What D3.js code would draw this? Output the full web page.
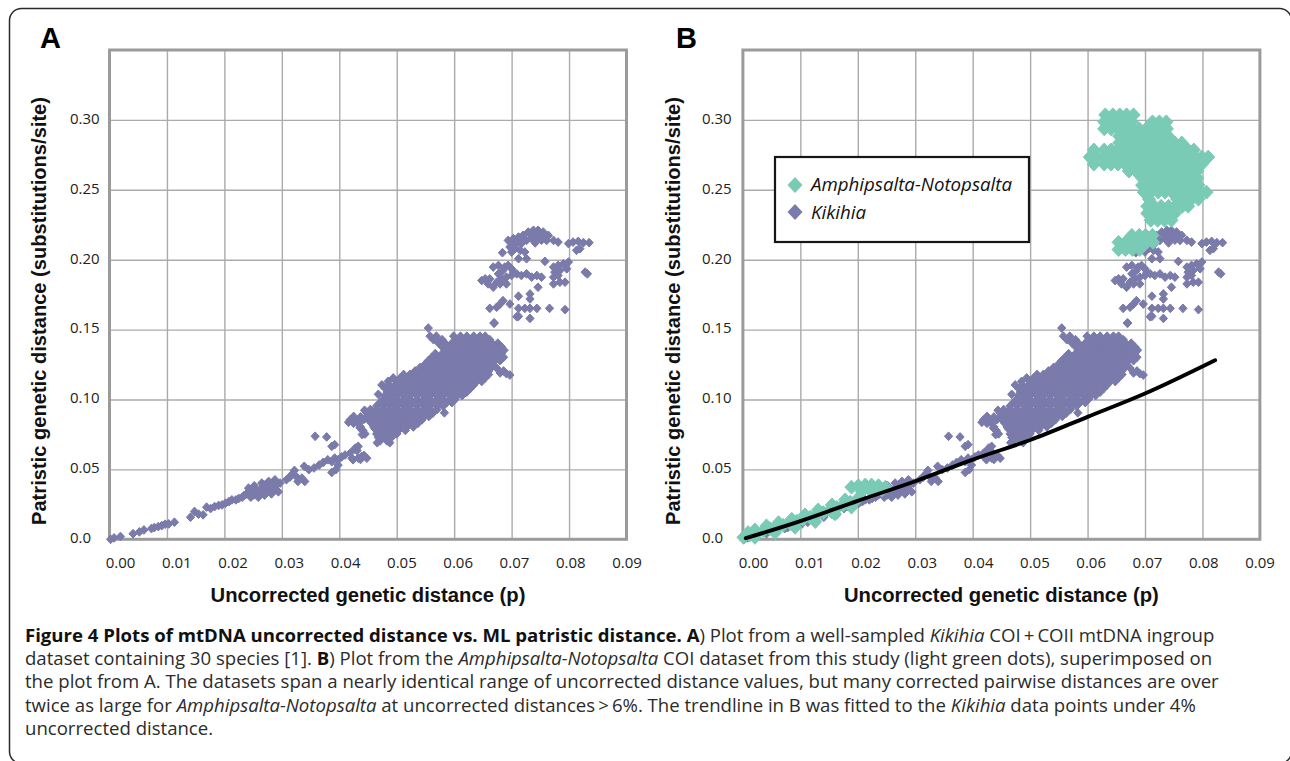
<!DOCTYPE html>
<html>
<head>
<meta charset="utf-8">
<script src="https://cdn.jsdelivr.net/npm/d3@7"></script>
<style>
  body { margin: 0; background: #fff; }
  svg { display: block; }
</style>
</head>
<body>
<svg id="fig" width="1290" height="761"></svg>
<script>
// ---- data ----
const xTicks = [0, 0.01, 0.02, 0.03, 0.04, 0.05, 0.06, 0.07, 0.08, 0.09];
const yTicks = [0, 0.05, 0.10, 0.15, 0.20, 0.25, 0.30];
const xGrid = [0.01, 0.02, 0.03, 0.04, 0.05, 0.06, 0.07, 0.08];
const yGrid = [0.05, 0.10, 0.15, 0.20, 0.25, 0.30];

// Kikihia COI + COII pairs [uncorrected p, patristic distance]
const kikihia = [
  // low band
  [0.0002,0.0000],[0.0008,0.0010],[0.0019,0.0020],[0.0041,0.0040],[0.0052,0.0053],[0.0060,0.0067],[0.0073,0.0077],
  [0.0078,0.0084],[0.0085,0.0091],[0.0091,0.0098],[0.0097,0.0108],[0.0103,0.0110],[0.0113,0.0122],[0.0141,0.0158],
  [0.0148,0.0199],[0.0155,0.0180],[0.0163,0.0175],[0.0169,0.0230],[0.0176,0.0220],[0.0183,0.0234],[0.0190,0.0242],
  [0.0196,0.0246],[0.0202,0.0258],[0.0208,0.0270],[0.0213,0.0282],[0.0220,0.0282],[0.0225,0.0292],[0.0231,0.0301],
  [0.0238,0.0323],[0.0244,0.0342],[0.0250,0.0359],[0.0256,0.0330],[0.0262,0.0354],[0.0267,0.0373],[0.0273,0.0349],
  [0.0279,0.0383],[0.0285,0.0364],[0.0291,0.0390],[0.0297,0.0402],[0.0246,0.0301],[0.0259,0.0301],[0.0270,0.0316],
  [0.0282,0.0325],[0.0294,0.0340],[0.0252,0.0383],[0.0242,0.0366],[0.0265,0.0402],[0.0277,0.0414],[0.0288,0.0426],
  [0.0251,0.0318],[0.0265,0.0335],[0.0277,0.0373],[0.0288,0.0354],[0.0234,0.0312],[0.0256,0.0350],[0.0271,0.0390],
  [0.0283,0.0395],[0.0260,0.0318],[0.0246,0.0330],
  [0.0308,0.0426],[0.0314,0.0445],[0.0322,0.0493],[0.0328,0.0414],[0.0340,0.0414],[0.0339,0.0522],[0.0347,0.0498],
  [0.0356,0.0510],[0.0365,0.0531],[0.0317,0.0462],[0.0335,0.0438],[0.0326,0.0445],
  [0.0358,0.0737],[0.0378,0.0732],[0.0387,0.0665],[0.0392,0.0677],
  [0.0372,0.0550],[0.0380,0.0569],[0.0387,0.0555],[0.0392,0.0581],[0.0398,0.0569],[0.0404,0.0589],[0.0410,0.0603],
  [0.0387,0.0478],[0.0394,0.0498],[0.0398,0.0531],[0.0424,0.0569],[0.0433,0.0581],[0.0439,0.0593],[0.0419,0.0617],
  [0.0427,0.0646],[0.0433,0.0665],
  [0.0416,0.0837],[0.0423,0.0842],[0.0436,0.0797],[0.0442,0.0856],[0.0440,0.0749],
  [0.0444,0.0923],[0.0437,0.0875],[0.0444,0.0863],[0.0451,0.0863],[0.0459,0.0827],[0.0462,0.0791],[0.0470,0.0755],
  [0.0473,0.0731],[0.0466,0.0691],[0.0488,0.0691],[0.0472,0.0767],[0.0428,0.0652],[0.0431,0.0635],[0.0443,0.0600],
  [0.0448,0.0580],[0.0422,0.0580],[0.0437,0.0571],
  // main cloud
  [0.0558,0.1453],[0.0569,0.1453],[0.0599,0.1453],[0.0611,0.1453],[0.0622,0.1453],[0.0634,0.1453],[0.0645,0.1453],[0.0654,0.1453],
  [0.0564,0.1428],[0.0579,0.1428],[0.0605,0.1428],[0.0616,0.1428],[0.0628,0.1428],[0.0639,0.1428],[0.0651,0.1428],[0.0662,0.1428],
  [0.0573,0.1403],[0.0584,0.1403],[0.0596,0.1403],[0.0608,0.1403],[0.0619,0.1403],[0.0631,0.1403],[0.0642,0.1403],
  [0.0654,0.1403],[0.0666,0.1403],[0.0676,0.1403],
  [0.0579,0.1378],[0.0590,0.1378],[0.0602,0.1378],[0.0613,0.1378],[0.0625,0.1378],[0.0637,0.1378],[0.0648,0.1378],
  [0.0660,0.1378],[0.0671,0.1378],[0.0682,0.1378],
  [0.0584,0.1353],[0.0596,0.1353],[0.0608,0.1353],[0.0619,0.1353],[0.0631,0.1353],[0.0642,0.1353],[0.0654,0.1353],
  [0.0666,0.1353],[0.0677,0.1353],[0.0687,0.1353],
  [0.0567,0.1328],[0.0579,0.1328],[0.0590,0.1328],[0.0602,0.1328],[0.0613,0.1328],[0.0625,0.1328],[0.0637,0.1328],
  [0.0648,0.1328],[0.0660,0.1328],[0.0671,0.1328],[0.0682,0.1328],
  [0.0561,0.1302],[0.0573,0.1302],[0.0584,0.1302],[0.0596,0.1302],[0.0608,0.1302],[0.0619,0.1302],[0.0631,0.1302],
  [0.0642,0.1302],[0.0654,0.1302],[0.0666,0.1302],[0.0677,0.1302],[0.0686,0.1302],
  [0.0555,0.1278],[0.0567,0.1278],[0.0579,0.1278],[0.0590,0.1278],[0.0602,0.1278],[0.0613,0.1278],[0.0625,0.1278],
  [0.0637,0.1278],[0.0648,0.1278],[0.0660,0.1278],[0.0671,0.1278],[0.0680,0.1278],
  [0.0550,0.1255],[0.0561,0.1255],[0.0573,0.1255],[0.0584,0.1255],[0.0596,0.1255],[0.0608,0.1255],[0.0619,0.1255],
  [0.0631,0.1255],[0.0642,0.1255],[0.0654,0.1255],[0.0666,0.1255],
  [0.0541,0.1230],[0.0552,0.1230],[0.0564,0.1230],[0.0576,0.1230],[0.0587,0.1230],[0.0599,0.1230],[0.0611,0.1230],
  [0.0622,0.1230],[0.0634,0.1230],[0.0645,0.1230],[0.0657,0.1230],[0.0665,0.1230],
  [0.0532,0.1204],[0.0544,0.1204],[0.0555,0.1204],[0.0567,0.1204],[0.0579,0.1204],[0.0590,0.1204],[0.0602,0.1204],
  [0.0613,0.1204],[0.0625,0.1204],[0.0637,0.1204],[0.0648,0.1204],[0.0660,0.1204],
  [0.0674,0.1225],[0.0686,0.1204],[0.0697,0.1175],
  [0.0512,0.1179],[0.0523,0.1179],[0.0535,0.1179],[0.0547,0.1179],[0.0558,0.1179],[0.0570,0.1179],[0.0581,0.1179],
  [0.0593,0.1179],[0.0605,0.1179],[0.0616,0.1179],[0.0628,0.1179],[0.0639,0.1179],[0.0651,0.1179],[0.0660,0.1179],
  [0.0680,0.1190],[0.0691,0.1185],
  [0.0494,0.1154],[0.0506,0.1154],[0.0518,0.1154],[0.0529,0.1154],[0.0541,0.1154],[0.0552,0.1154],[0.0564,0.1154],
  [0.0576,0.1154],[0.0587,0.1154],[0.0599,0.1154],[0.0611,0.1154],[0.0622,0.1154],[0.0634,0.1154],[0.0645,0.1154],
  [0.0654,0.1154],
  [0.0485,0.1129],[0.0500,0.1129],[0.0512,0.1129],[0.0523,0.1129],[0.0535,0.1129],[0.0547,0.1129],[0.0558,0.1129],
  [0.0570,0.1129],[0.0581,0.1129],[0.0593,0.1129],[0.0605,0.1129],[0.0616,0.1129],[0.0628,0.1129],[0.0639,0.1129],
  [0.0648,0.1129],
  [0.0474,0.1104],[0.0486,0.1104],[0.0497,0.1104],[0.0509,0.1104],[0.0521,0.1104],[0.0532,0.1104],[0.0544,0.1104],
  [0.0555,0.1104],[0.0567,0.1104],[0.0579,0.1104],[0.0590,0.1104],[0.0602,0.1104],[0.0613,0.1104],[0.0625,0.1104],
  [0.0634,0.1104],
  [0.0480,0.1078],[0.0489,0.1078],[0.0500,0.1078],[0.0512,0.1078],[0.0523,0.1078],[0.0535,0.1078],[0.0547,0.1078],
  [0.0558,0.1078],[0.0570,0.1078],[0.0581,0.1078],[0.0593,0.1078],[0.0605,0.1078],[0.0616,0.1078],[0.0628,0.1078],
  [0.0468,0.1037],[0.0483,0.1053],[0.0494,0.1053],[0.0506,0.1053],[0.0518,0.1053],[0.0529,0.1053],[0.0541,0.1053],
  [0.0552,0.1053],[0.0564,0.1053],[0.0576,0.1053],[0.0587,0.1053],[0.0599,0.1053],[0.0611,0.1053],[0.0622,0.1053],
  [0.0480,0.1028],[0.0489,0.1028],[0.0500,0.1028],[0.0512,0.1028],[0.0523,0.1028],[0.0535,0.1028],[0.0547,0.1028],
  [0.0558,0.1028],[0.0570,0.1028],[0.0581,0.1028],[0.0593,0.1028],[0.0605,0.1028],[0.0614,0.1028],
  [0.0477,0.1003],[0.0489,0.1003],[0.0500,0.1003],[0.0512,0.1003],[0.0523,0.1003],[0.0535,0.1003],[0.0547,0.1003],
  [0.0558,0.1003],[0.0570,0.1003],[0.0581,0.1003],[0.0593,0.1003],[0.0602,0.1003],
  [0.0471,0.0978],[0.0483,0.0978],[0.0494,0.0978],[0.0506,0.0978],[0.0518,0.0978],[0.0529,0.0978],[0.0541,0.0978],
  [0.0552,0.0978],[0.0564,0.0978],[0.0576,0.0978],[0.0587,0.0978],[0.0596,0.0978],
  [0.0465,0.0953],[0.0477,0.0953],[0.0489,0.0953],[0.0500,0.0953],[0.0512,0.0953],[0.0523,0.0953],[0.0535,0.0953],
  [0.0547,0.0953],[0.0558,0.0953],[0.0570,0.0953],[0.0581,0.0953],
  [0.0454,0.0928],[0.0465,0.0928],[0.0477,0.0928],[0.0489,0.0928],[0.0500,0.0928],[0.0512,0.0928],[0.0523,0.0928],
  [0.0535,0.0928],[0.0547,0.0928],[0.0558,0.0928],[0.0570,0.0928],
  [0.0448,0.0903],[0.0460,0.0903],[0.0471,0.0903],[0.0483,0.0903],[0.0494,0.0903],[0.0506,0.0903],[0.0518,0.0903],
  [0.0529,0.0903],[0.0541,0.0903],[0.0552,0.0903],[0.0563,0.0903],[0.0583,0.0905],
  [0.0425,0.0879],[0.0454,0.0879],[0.0465,0.0879],[0.0477,0.0879],[0.0489,0.0879],[0.0500,0.0879],[0.0512,0.0879],
  [0.0523,0.0879],[0.0535,0.0879],[0.0547,0.0879],[0.0556,0.0879],
  [0.0419,0.0855],[0.0429,0.0855],[0.0451,0.0855],[0.0462,0.0855],[0.0474,0.0855],[0.0486,0.0855],[0.0497,0.0855],
  [0.0509,0.0855],[0.0521,0.0855],[0.0532,0.0855],[0.0544,0.0855],
  [0.0425,0.0830],[0.0433,0.0830],[0.0456,0.0830],[0.0468,0.0830],[0.0480,0.0830],[0.0491,0.0830],[0.0503,0.0830],
  [0.0515,0.0830],[0.0526,0.0830],[0.0537,0.0830],
  [0.0437,0.0804],[0.0460,0.0804],[0.0471,0.0804],[0.0483,0.0804],[0.0494,0.0804],[0.0506,0.0804],[0.0518,0.0804],
  [0.0529,0.0804],
  [0.0441,0.0779],[0.0468,0.0779],[0.0480,0.0779],[0.0491,0.0779],[0.0503,0.0779],[0.0515,0.0779],
  [0.0445,0.0754],[0.0465,0.0754],[0.0477,0.0754],[0.0489,0.0754],[0.0500,0.0754],
  [0.0468,0.0729],[0.0480,0.0729],[0.0491,0.0729],
  [0.0471,0.0704],[0.0483,0.0704],
  [0.0555,0.1511],[0.0670,0.1547],[0.0709,0.1592],
  // upper group (p > 0.065)
  [0.0694,0.2138],[0.0703,0.2150],[0.0712,0.2162],[0.0720,0.2174],[0.0729,0.2198],[0.0738,0.2210],[0.0746,0.2210],
  [0.0755,0.2198],[0.0764,0.2174],[0.0773,0.2138],[0.0781,0.2126],[0.0709,0.2115],[0.0717,0.2115],[0.0726,0.2138],
  [0.0735,0.2150],[0.0744,0.2162],[0.0752,0.2162],[0.0761,0.2138],[0.0697,0.2091],[0.0706,0.2079],[0.0715,0.2067],
  [0.0723,0.2055],[0.0712,0.2007],[0.0726,0.2007],[0.0684,0.2050],[0.0700,0.2055],[0.0732,0.2186],[0.0749,0.2186],
  [0.0720,0.2140],[0.0738,0.2180],[0.0752,0.2140],[0.0703,0.2110],[0.0741,0.2120],
  [0.0799,0.2115],[0.0807,0.2126],[0.0816,0.2131],[0.0825,0.2122],[0.0835,0.2122],[0.0813,0.2067],[0.0819,0.2079],
  [0.0668,0.1947],[0.0677,0.1959],[0.0688,0.1947],[0.0694,0.1959],[0.0700,0.1935],[0.0703,0.1911],[0.0685,0.1923],
  [0.0677,0.1899],[0.0662,0.1863],[0.0654,0.1863],[0.0648,0.1851],[0.0659,0.1827],[0.0668,0.1803],[0.0674,0.1839],
  [0.0683,0.1863],[0.0691,0.1875],[0.0700,0.1887],[0.0709,0.1899],[0.0717,0.1887],[0.0726,0.1899],[0.0735,0.1875],
  [0.0744,0.1887],[0.0752,0.1875],[0.0691,0.1827],[0.0680,0.1827],
  [0.0758,0.1988],[0.0773,0.1947],[0.0781,0.1959],[0.0790,0.1971],[0.0799,0.1983],[0.0775,0.1911],[0.0784,0.1923],
  [0.0796,0.1935],[0.0773,0.1875],[0.0781,0.1887],[0.0773,0.1827],[0.0784,0.1839],[0.0793,0.1839],[0.0828,0.1911],
  [0.0832,0.1899],
  [0.0712,0.1739],[0.0732,0.1755],[0.0732,0.1719],[0.0746,0.1803],[0.0685,0.1707],[0.0680,0.1683],[0.0662,0.1652],
  [0.0674,0.1660],[0.0697,0.1683],[0.0712,0.1652],[0.0723,0.1652],[0.0732,0.1652],[0.0744,0.1652],[0.0766,0.1652],
  [0.0793,0.1643],[0.0712,0.1595],[0.0732,0.1580],[0.0669,0.1547]
];

// Amphipsalta-Notopsalta COI pairs [uncorrected p, patristic distance]
const amphipsalta = [
  // low band
  [0.0001,0.0014],[0.0012,0.0031],[0.0024,0.0048],[0.0036,0.0062],[0.0047,0.0076],[0.0059,0.0088],[0.0070,0.0100],
  [0.0082,0.0115],[0.0094,0.0129],[0.0105,0.0143],[0.0117,0.0158],[0.0128,0.0175],[0.0140,0.0191],[0.0152,0.0210],
  [0.0163,0.0227],[0.0175,0.0246],[0.0187,0.0266],[0.0198,0.0282],
  [0.0009,0.0048],[0.0021,0.0067],[0.0041,0.0096],[0.0062,0.0119],[0.0085,0.0143],[0.0108,0.0175],[0.0131,0.0210],
  [0.0155,0.0246],[0.0178,0.0282],
  [0.0021,0.0014],[0.0056,0.0048],[0.0091,0.0086],[0.0126,0.0127],[0.0160,0.0182],[0.0189,0.0230],
  [0.0189,0.0373],[0.0201,0.0383],[0.0213,0.0388],[0.0224,0.0388],[0.0236,0.0383],[0.0248,0.0373],[0.0207,0.0342],
  [0.0224,0.0342],[0.0242,0.0354],
  // upper group
  [0.0631,0.3036],[0.0644,0.3036],[0.0656,0.3036],[0.0668,0.3036],[0.0680,0.3036],
  [0.0629,0.2986],[0.0641,0.2986],[0.0653,0.2986],[0.0665,0.2986],[0.0677,0.2986],[0.0713,0.2986],[0.0725,0.2986],[0.0737,0.2986],
  [0.0629,0.2936],[0.0641,0.2936],[0.0653,0.2936],[0.0665,0.2936],[0.0677,0.2936],[0.0690,0.2936],[0.0702,0.2936],
  [0.0714,0.2936],[0.0726,0.2936],[0.0738,0.2936],
  [0.0655,0.2885],[0.0667,0.2885],[0.0679,0.2885],[0.0691,0.2885],[0.0703,0.2885],[0.0716,0.2885],[0.0728,0.2885],[0.0740,0.2885],
  [0.0655,0.2835],[0.0667,0.2835],[0.0679,0.2835],[0.0691,0.2835],[0.0703,0.2835],[0.0716,0.2835],[0.0728,0.2835],
  [0.0740,0.2835],[0.0752,0.2835],[0.0764,0.2835],
  [0.0611,0.2785],[0.0629,0.2785],[0.0641,0.2785],[0.0653,0.2785],[0.0665,0.2785],[0.0677,0.2785],[0.0690,0.2785],
  [0.0702,0.2785],[0.0714,0.2785],[0.0726,0.2785],[0.0738,0.2785],[0.0751,0.2785],[0.0763,0.2785],[0.0775,0.2785],[0.0785,0.2785],
  [0.0604,0.2734],[0.0616,0.2734],[0.0629,0.2734],[0.0641,0.2734],[0.0653,0.2734],[0.0665,0.2734],[0.0677,0.2734],
  [0.0690,0.2734],[0.0702,0.2734],[0.0714,0.2734],[0.0726,0.2734],[0.0738,0.2734],[0.0751,0.2734],[0.0763,0.2734],
  [0.0775,0.2734],[0.0787,0.2734],[0.0799,0.2734],[0.0810,0.2734],
  [0.0611,0.2684],[0.0629,0.2684],[0.0641,0.2684],[0.0653,0.2684],[0.0665,0.2684],[0.0677,0.2684],[0.0690,0.2684],
  [0.0702,0.2684],[0.0714,0.2684],[0.0726,0.2684],[0.0738,0.2684],[0.0751,0.2684],[0.0763,0.2684],[0.0775,0.2684],
  [0.0787,0.2684],[0.0799,0.2684],
  [0.0672,0.2634],[0.0684,0.2634],[0.0697,0.2634],[0.0709,0.2634],[0.0721,0.2634],[0.0733,0.2634],[0.0745,0.2634],
  [0.0757,0.2634],[0.0770,0.2634],[0.0782,0.2634],[0.0791,0.2634],
  [0.0695,0.2584],[0.0708,0.2584],[0.0720,0.2584],[0.0732,0.2584],[0.0744,0.2584],[0.0756,0.2584],[0.0769,0.2584],
  [0.0781,0.2584],[0.0791,0.2584],
  [0.0695,0.2533],[0.0708,0.2533],[0.0720,0.2533],[0.0732,0.2533],[0.0744,0.2533],[0.0756,0.2533],[0.0769,0.2533],
  [0.0781,0.2533],[0.0793,0.2533],
  [0.0698,0.2483],[0.0710,0.2483],[0.0723,0.2483],[0.0735,0.2483],[0.0747,0.2483],[0.0759,0.2483],[0.0771,0.2483],
  [0.0784,0.2483],[0.0796,0.2483],[0.0807,0.2483],
  [0.0707,0.2433],[0.0756,0.2433],[0.0769,0.2433],[0.0781,0.2433],[0.0793,0.2433],
  [0.0704,0.2382],[0.0716,0.2382],[0.0728,0.2382],[0.0741,0.2382],[0.0753,0.2382],[0.0765,0.2382],[0.0775,0.2382],
  [0.0704,0.2332],[0.0716,0.2332],[0.0728,0.2332],[0.0741,0.2332],[0.0752,0.2332],
  [0.0710,0.2282],[0.0722,0.2282],[0.0734,0.2282],[0.0746,0.2282],
  [0.0677,0.2174],[0.0690,0.2174],[0.0701,0.2174],[0.0713,0.2174],
  [0.0654,0.2124],[0.0666,0.2124],[0.0678,0.2124],[0.0691,0.2124],[0.0703,0.2124],[0.0714,0.2124],
  [0.0654,0.2073],[0.0666,0.2073],[0.0678,0.2073],[0.0691,0.2073]
];

// trendline fitted to Kikihia points under 4 %
const trendP = [0.0005, 0.01, 0.02, 0.03, 0.04, 0.05, 0.06, 0.07, 0.0822];
const trendD = [0.0008, 0.0130, 0.0275, 0.0415, 0.0570, 0.0710, 0.0876, 0.1043, 0.1281];

const seriesNames = ["Amphipsalta-Notopsalta", "Kikihia"];
const xTitle = "Uncorrected genetic distance (p)";
const yTitle = "Patristic genetic distance (substitutions/site)";

const purple = "#7a7aab";
const teal = "#79cbb5";

// ---- drawing ----
const svg = d3.select("#fig");

// figure border
svg.append("rect")
  .attr("x", 9.5).attr("y", 8.5)
  .attr("width", 1282).attr("height", 755)
  .attr("rx", 12)
  .attr("fill", "none")
  .attr("stroke", "#2a2a2a")
  .attr("stroke-width", 1.5);

// diamond marker for d3.symbol
const diamond = {
  draw(ctx, size) {
    const r = Math.sqrt(size / 2);
    ctx.moveTo(0, -r * 1.06);
    ctx.lineTo(r, 0);
    ctx.lineTo(0, r * 1.06);
    ctx.lineTo(-r, 0);
    ctx.closePath();
  }
};

const panels = [
  { letter: "A", left: 109.5, right: 626.5, labelRange: [120, 626.5], yLabelX: 70, yTitleX: 46, letterX: 40, amph: false },
  { letter: "B", left: 742.9, right: 1259.9, labelRange: [753, 1259.5], yLabelX: 702, yTitleX: 679.5, letterX: 676, amph: true }
];

const plotTop = 50, plotBottom = 539.3;

function fitText(sel, target) {
  const fs = parseFloat(sel.attr("font-size"));
  const len = sel.node().getComputedTextLength();
  sel.attr("font-size", (fs * target / len).toFixed(2));
}

panels.forEach(pn => {
  const g = svg.append("g");
  const x = d3.scaleLinear().domain([0, 0.09]).range([pn.left, pn.right]);
  const y = d3.scaleLinear().domain([0, 0.35]).range([plotBottom, plotTop]);
  const xl = d3.scaleLinear().domain([0, 0.09]).range(pn.labelRange);

  // grid
  g.append("g")
    .attr("transform", `translate(0,${plotBottom})`)
    .call(d3.axisBottom(x).tickValues(xGrid).tickSize(-(plotBottom - plotTop)).tickFormat(""))
    .call(a => a.select(".domain").remove())
    .call(a => a.selectAll("line").attr("stroke", "#ababab").attr("stroke-width", 1.4));
  g.append("g")
    .attr("transform", `translate(${pn.left},0)`)
    .call(d3.axisLeft(y).tickValues(yGrid).tickSize(-(pn.right - pn.left)).tickFormat(""))
    .call(a => a.select(".domain").remove())
    .call(a => a.selectAll("line").attr("stroke", "#ababab").attr("stroke-width", 1.4));

  // frame
  g.append("rect")
    .attr("x", x(0)).attr("y", y(0.35))
    .attr("width", x(0.09) - x(0)).attr("height", y(0) - y(0.35))
    .attr("fill", "none").attr("stroke", "#9b9b9b").attr("stroke-width", 3);

  // tick labels
  g.append("g")
    .attr("transform", `translate(0,${plotBottom})`)
    .call(d3.axisBottom(xl).tickValues(xTicks).tickSize(0).tickFormat(d3.format(".2f")))
    .call(a => a.select(".domain").remove())
    .call(a => a.selectAll("text")
      .attr("y", 29).attr("dy", null)
      .attr("font-family", "'Open Sans', sans-serif").attr("font-size", 15).attr("fill", "#222"));
  g.append("g")
    .attr("transform", `translate(${pn.left},0)`)
    .call(d3.axisLeft(y).tickValues(yTicks).tickSize(0).tickFormat(d => d === 0 ? "0.0" : d3.format(".2f")(d)))
    .call(a => a.select(".domain").remove())
    .call(a => a.selectAll("text")
      .attr("x", pn.yLabelX - pn.left).attr("dy", "0.22em").attr("text-anchor", "start")
      .attr("font-family", "'Open Sans', sans-serif").attr("font-size", 15).attr("fill", "#222"));

  // points
  const plot = g.append("g");
  plot.selectAll("path.kik")
    .data(kikihia)
    .join("path")
    .attr("class", "kik")
    .attr("transform", d => `translate(${x(d[0])},${y(d[1])})`)
    .attr("d", d3.symbol().type(diamond).size(34))
    .attr("fill", purple)
    .attr("stroke", purple)
    .attr("stroke-width", 1)
    .attr("stroke-linejoin", "round");

  if (pn.amph) {
    plot.selectAll("path.amp")
      .data(amphipsalta)
      .join("path")
      .attr("class", "amp")
      .attr("transform", d => `translate(${x(d[0])},${y(d[1])})`)
      .attr("d", d3.symbol().type(diamond).size(86))
      .attr("fill", teal)
      .attr("stroke", teal)
      .attr("stroke-width", 1);

    const line = d3.line()
      .x(i => x(trendP[i]))
      .y(i => y(trendD[i]))
      .curve(d3.curveMonotoneX);
    plot.append("path")
      .attr("d", line(d3.range(trendP.length)))
      .attr("fill", "none")
      .attr("stroke", "#000")
      .attr("stroke-width", 3.9)
      .attr("stroke-linecap", "round");

    // legend
    const lg = g.append("g");
    lg.append("rect")
      .attr("x", 775).attr("y", 157).attr("width", 254).attr("height", 85)
      .attr("fill", "#fff").attr("stroke", "#161616").attr("stroke-width", 2.2);
    [teal, purple].forEach((c, i) => {
      lg.append("path")
        .attr("transform", `translate(795,${185 + i * 27})`)
        .attr("d", d3.symbol().type(diamond).size(112))
        .attr("fill", c);
    });
    const t0 = lg.append("text")
      .attr("x", 811).attr("y", 191)
      .attr("font-family", "'Open Sans', sans-serif").attr("font-style", "italic")
      .attr("font-size", 17).attr("fill", "#111")
      .text(seriesNames[0]);
    fitText(t0, 201);
    lg.append("text")
      .attr("x", 811).attr("y", 219)
      .attr("font-family", "'Open Sans', sans-serif").attr("font-style", "italic")
      .attr("font-size", t0.attr("font-size")).attr("fill", "#111")
      .text(seriesNames[1]);
  }

  // panel letter
  g.append("text")
    .attr("x", pn.letterX).attr("y", 48)
    .attr("font-family", "'Liberation Sans', Arial, sans-serif").attr("font-weight", "bold")
    .attr("font-size", 29).attr("fill", "#000")
    .text(pn.letter);

  // axis titles
  const xt = g.append("text")
    .attr("x", (pn.left + pn.right) / 2).attr("y", 602)
    .attr("text-anchor", "middle")
    .attr("font-family", "'Liberation Sans', Arial, sans-serif").attr("font-weight", "bold")
    .attr("font-size", 18).attr("fill", "#111")
    .text(xTitle);
  fitText(xt, 315);
  const yt = g.append("text")
    .attr("transform", `translate(${pn.yTitleX},311) rotate(-90)`)
    .attr("text-anchor", "middle")
    .attr("font-family", "'Liberation Sans', Arial, sans-serif").attr("font-weight", "bold")
    .attr("font-size", 17).attr("fill", "#111")
    .text(yTitle);
  fitText(yt, 428);
});

// ---- caption ----
const captionLines = [
  [["b", "Figure 4 Plots of mtDNA uncorrected distance vs. ML patristic distance. A"], ["r", ") Plot from a well-sampled "],
   ["i", "Kikihia"], ["r", " COI\u2009+\u2009COII mtDNA ingroup"]],
  [["r", "dataset containing 30 species [1]. "], ["b", "B"], ["r", ") Plot from the "], ["i", "Amphipsalta-Notopsalta"],
   ["r", " COI dataset from this study (light green dots), superimposed on"]],
  [["r", "the plot from A. The datasets span a nearly identical range of uncorrected distance values, but many corrected pairwise distances are over"]],
  [["r", "twice as large for "], ["i", "Amphipsalta-Notopsalta"], ["r", " at uncorrected distances\u2009>\u20096%. The trendline in B was fitted to the "],
   ["i", "Kikihia"], ["r", " data points under 4%"]],
  [["r", "uncorrected distance."]]
];

const cap = svg.append("g")
  .attr("font-family", "'Open Sans', sans-serif")
  .attr("fill", "#2b2b2b");
const capTexts = captionLines.map((segs, i) => {
  const t = cap.append("text")
    .attr("x", 25).attr("y", 641.7 + i * 23.3)
    .attr("font-size", 16);
  segs.forEach(([k, s]) => {
    t.append("tspan")
      .attr("font-weight", k === "b" ? "bold" : null)
      .attr("font-style", k === "i" ? "italic" : null)
      .attr("fill", k === "b" ? "#111" : null)
      .text(s);
  });
  return t;
});
const capLen = capTexts[0].node().getComputedTextLength();
const capSize = (16 * 1190 / capLen).toFixed(2);
capTexts.forEach(t => t.attr("font-size", capSize));
</script>
</body>
</html>
